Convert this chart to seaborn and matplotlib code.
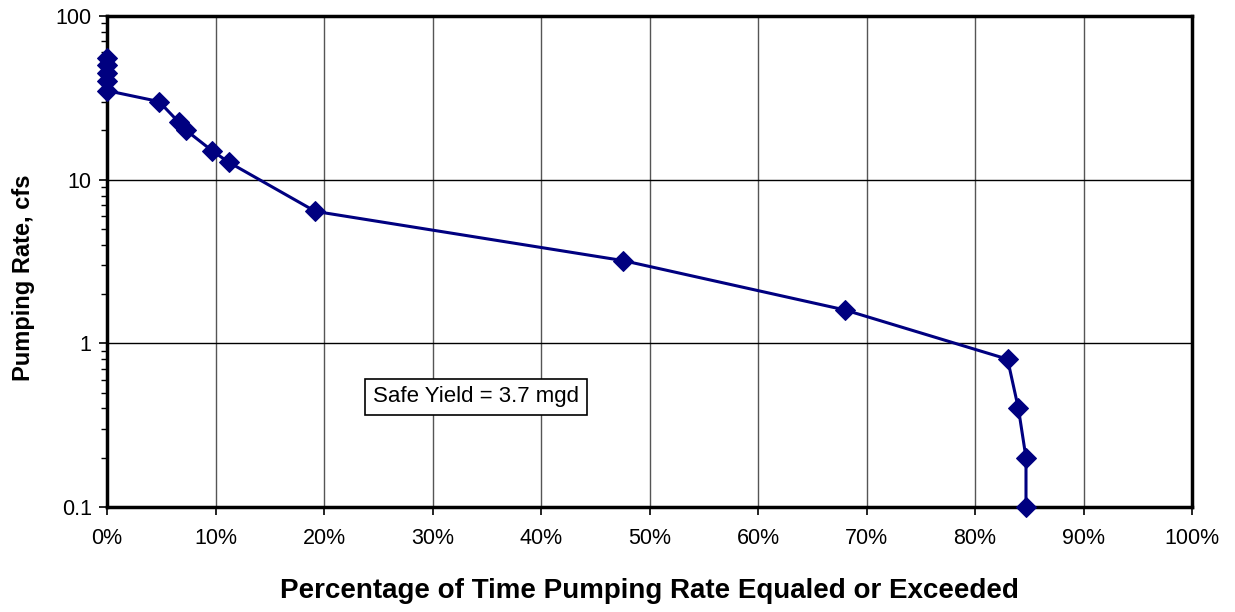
import matplotlib
matplotlib.use("Agg")
import matplotlib.pyplot as plt
import matplotlib.ticker as mticker
import numpy as np
import pandas as pd
import seaborn as sns

# Duration curve: percent of time a pumping rate is equaled or exceeded
pct_time = [0, 0, 0, 0, 0, 4.8, 6.6, 7.3, 9.7, 11.2, 19.2, 47.6, 68.0, 83.0, 84.0, 84.7, 84.7]
pump_rate = [55, 50, 45, 40, 35, 30, 22.5, 20, 15, 12.8, 6.4, 3.2, 1.6, 0.8, 0.4, 0.2, 0.1]
x_ticks = [0, 10, 20, 30, 40, 50, 60, 70, 80, 90, 100]
y_ticks = [0.1, 1, 10, 100]
y_tick_labels = ["0.1", "1", "10", "100"]
note_text = "Safe Yield = 3.7 mgd"

sns.set_theme(style="white")
plt.rcParams["font.family"] = ["Liberation Sans", "DejaVu Sans"]

df = pd.DataFrame({"pct": pct_time, "rate": pump_rate})

fig = plt.figure(figsize=(12.35, 6.12), dpi=100)
ax = fig.add_axes([107 / 1235, 1 - 507 / 612, (1192 - 107) / 1235, (507 - 16) / 612])

ax.set_yscale("log")
ax.set_xlim(0, 100)
ax.set_ylim(0.1, 100)

# grid lines
for xv in x_ticks[1:-1]:
    ax.axvline(xv, color="#555555", lw=1.0, zorder=1)
for yv in y_ticks[1:-1]:
    ax.axhline(yv, color="black", lw=1.0, zorder=1)

sns.lineplot(data=df, x="pct", y="rate", ax=ax, estimator=None, sort=False,
             color="#000080", lw=2.2, marker="D", markersize=10.5,
             markeredgecolor="#000080", markerfacecolor="#000080",
             clip_on=False, zorder=5)

ax.set_xticks(x_ticks)
ax.set_xticklabels([f"{v}%" for v in x_ticks])
ax.set_yticks(y_ticks)
ax.set_yticklabels(y_tick_labels)
ax.yaxis.set_minor_locator(mticker.LogLocator(base=10, subs=np.arange(2, 10)))
ax.yaxis.set_minor_formatter(mticker.NullFormatter())

ax.tick_params(axis="both", which="major", direction="out", length=6, width=1.2,
               color="black", labelsize=15.5, labelcolor="black", pad=9,
               bottom=True, left=True)
ax.tick_params(axis="y", which="minor", direction="out", length=4, width=1.0,
               color="black", left=True)
ax.tick_params(axis="y", which="major", pad=5)

for sp in ax.spines.values():
    sp.set_color("black")
    sp.set_linewidth(2.5)
    sp.set_zorder(4)

ax.set_xlabel("Percentage of Time Pumping Rate Equaled or Exceeded",
              fontsize=20, fontweight="bold", color="black", labelpad=21)
ax.set_ylabel("Pumping Rate, cfs", fontsize=17, fontweight="bold", color="black")
ax.yaxis.set_label_coords(-0.066, 0.466)

ax.text(34.0, 0.47, note_text, ha="center", va="center", fontsize=16,
        color="black", zorder=6,
        bbox=dict(boxstyle="square,pad=0.35", facecolor="white",
                  edgecolor="black", linewidth=1.2))

fig.savefig("out.png", dpi=100, facecolor="white")
